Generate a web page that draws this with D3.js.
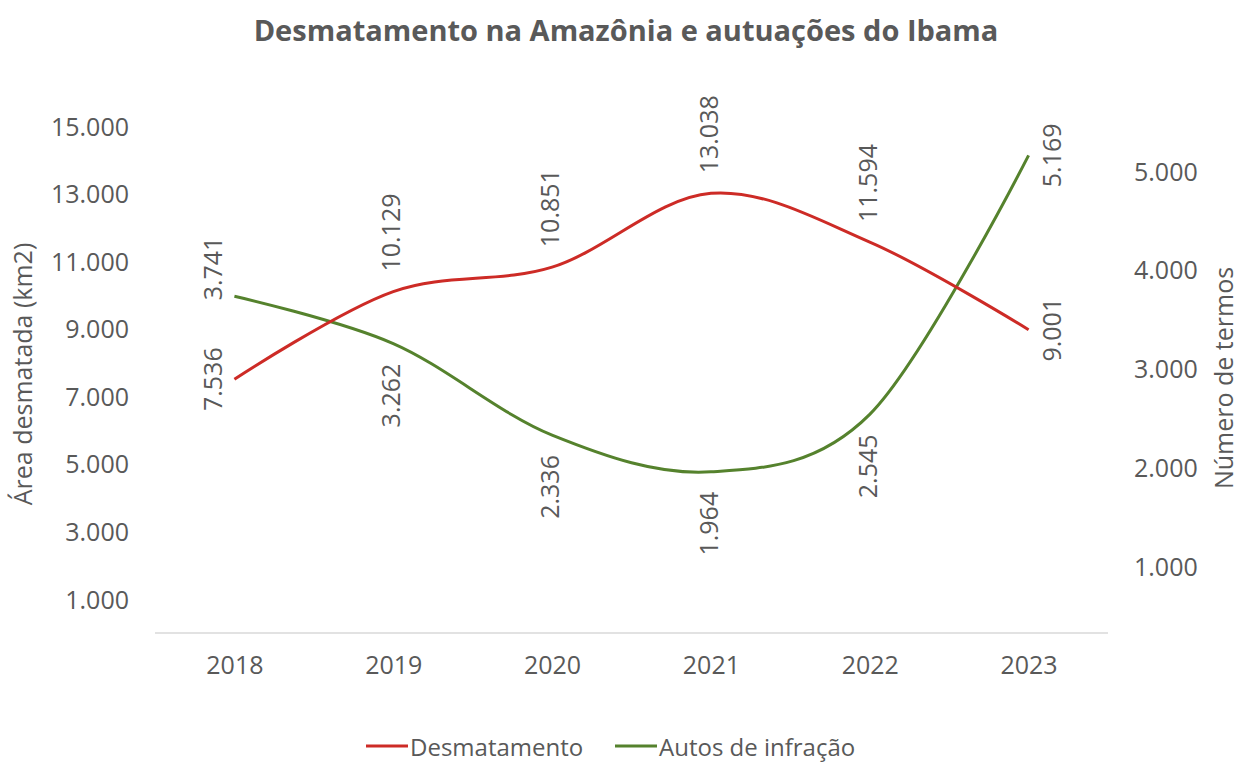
<!DOCTYPE html>
<html>
<head>
<meta charset="utf-8">
<script src="https://cdn.jsdelivr.net/npm/d3@7"></script>
<style>
  body { margin: 0; background: #fff; }
  text { font-family: "Open Sans", sans-serif; fill: #595959; }
</style>
</head>
<body>
<div id="chart"></div>
<script>
    var years = ["2018", "2019", "2020", "2021", "2022", "2023"]
    var desmatamento = [7536, 10129, 10851, 13038, 11594, 9001]
    var autos = [3741, 3262, 2336, 1964, 2545, 5169]
    var leftTicks = [1000, 3000, 5000, 7000, 9000, 11000, 13000, 15000]
    var rightTicks = [1000, 2000, 3000, 4000, 5000]

    // label placement for each point
    var redPos = ["left", "above", "above", "above", "above", "right"]
    var greenPos = ["leftUp", "below", "below", "below", "below", "right"]

    var red = "#cd2b26"
    var green = "#55822d"
    var fs = 25

    var w = 1239
    var h = 762

    var svg = d3.select("#chart").append("svg")
        .attr("width", w)
        .attr("height", h)

    var fmt = function(v){
        return d3.format(",")(v).replace(/,/g, ".")
    }

    var x = d3.scalePoint()
        .domain(years)
        .range([155, 1108])
        .padding(0.5)

    var yLeft = d3.scaleLinear()
        .domain([1000, 15000])
        .range([600, 127])

    var yRight = d3.scaleLinear()
        .domain([1000, 5000])
        .range([567, 172])

    // title
    svg.append("text")
        .attr("x", 626)
        .attr("y", 41)
        .attr("text-anchor", "middle")
        .attr("font-size", 29)
        .attr("font-weight", "bold")
        .text("Desmatamento na Amazônia e autuações do Ibama")

    // baseline
    svg.append("line")
        .attr("x1", 155).attr("x2", 1108)
        .attr("y1", 633).attr("y2", 633)
        .attr("stroke", "#d9d9d9")
        .attr("stroke-width", 1.5)

    // left axis
    var leftAxis = d3.axisLeft(yLeft).tickValues(leftTicks).tickFormat(fmt).tickSize(0).tickPadding(0)
    var gl = svg.append("g").attr("transform", "translate(129,0)").call(leftAxis)
    gl.select(".domain").remove()
    gl.selectAll("text").attr("font-size", fs).attr("fill", "#595959").attr("font-family", "Open Sans")

    // right axis
    var rightAxis = d3.axisRight(yRight).tickValues(rightTicks).tickFormat(fmt).tickSize(0).tickPadding(0)
    var gr = svg.append("g").attr("transform", "translate(1134,0)").call(rightAxis)
    gr.select(".domain").remove()
    gr.selectAll("text").attr("font-size", fs).attr("fill", "#595959").attr("font-family", "Open Sans")

    // x axis
    var xAxis = d3.axisBottom(x).tickSize(0).tickPadding(0)
    var gx = svg.append("g").attr("transform", "translate(0,656)").call(xAxis)
    gx.select(".domain").remove()
    gx.selectAll("text").attr("font-size", fs).attr("fill", "#595959").attr("font-family", "Open Sans")

    // axis titles
    svg.append("text")
        .attr("transform", "translate(22,374) rotate(-90)")
        .attr("text-anchor", "middle")
        .attr("dominant-baseline", "central")
        .attr("font-size", fs)
        .text("Área desmatada (km2)")

    svg.append("text")
        .attr("transform", "translate(1223,378) rotate(-90)")
        .attr("text-anchor", "middle")
        .attr("dominant-baseline", "central")
        .attr("font-size", fs)
        .text("Número de termos")

    // lines
    var redLine = d3.line()
        .x(function(d, i){ return x(years[i]) })
        .y(function(d){ return yLeft(d) })
        .curve(d3.curveCardinal)

    var greenLine = d3.line()
        .x(function(d, i){ return x(years[i]) })
        .y(function(d){ return yRight(d) })
        .curve(d3.curveCardinal)

    svg.append("path")
        .attr("d", greenLine(autos))
        .attr("fill", "none")
        .attr("stroke", green)
        .attr("stroke-width", 3)

    svg.append("path")
        .attr("d", redLine(desmatamento))
        .attr("fill", "none")
        .attr("stroke", red)
        .attr("stroke-width", 3)

    // rotated data labels
    function drawLabels(values, scale, pos){
        svg.selectAll(null)
            .data(values)
            .join("text")
            .attr("font-size", fs)
            .attr("dominant-baseline", "central")
            .attr("text-anchor", function(d, i){
                var p = pos[i]
                if(p == "above" || p == "leftUp") return "start"
                if(p == "below") return "end"
                return "middle"
            })
            .attr("transform", function(d, i){
                var px = x(years[i])
                var py = scale(d)
                var p = pos[i]
                if(p == "above") return "translate(" + (px - 3) + "," + (py - 20) + ") rotate(-90)"
                if(p == "below") return "translate(" + (px - 3) + "," + (py + 20) + ") rotate(-90)"
                if(p == "left") return "translate(" + (px - 22) + "," + py + ") rotate(-90)"
                if(p == "leftUp") return "translate(" + (px - 22) + "," + (py + 4) + ") rotate(-90)"
                return "translate(" + (px + 22) + "," + py + ") rotate(-90)"
            })
            .text(function(d){ return fmt(d) })
    }
    drawLabels(desmatamento, yLeft, redPos)
    drawLabels(autos, yRight, greenPos)

    // legend
    var legend = [
        {name: "Desmatamento", color: red, x: 366},
        {name: "Autos de infração", color: green, x: 615}
    ]
    var lg = svg.selectAll(".legend").data(legend).join("g")
        .attr("transform", function(d){ return "translate(" + d.x + ",746)" })
    lg.append("line")
        .attr("x1", 0).attr("x2", 42)
        .attr("stroke", function(d){ return d.color })
        .attr("stroke-width", 3)
    lg.append("text")
        .attr("x", 44)
        .attr("dominant-baseline", "central")
        .attr("font-size", 24)
        .text(function(d){ return d.name })
</script>
</body>
</html>
